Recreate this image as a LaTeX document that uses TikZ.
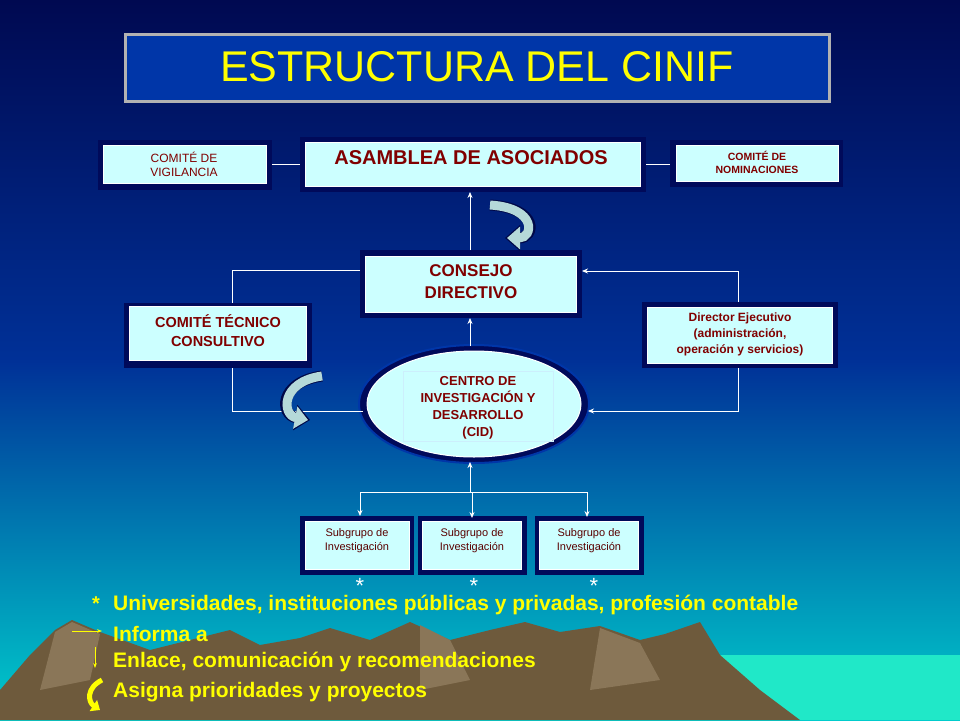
\documentclass[tikz,border=0pt]{standalone}
\usepackage{fontspec}
\setmainfont{Liberation Sans}
\usetikzlibrary{arrows.meta,shapes.geometric}
\definecolor{navy}{HTML}{000A5A}
\definecolor{boxfill}{HTML}{CCFFFF}
\definecolor{dred}{HTML}{800000}
\definecolor{ttl}{HTML}{0036A8}
\definecolor{yel}{HTML}{FFFF00}
\definecolor{mtn}{HTML}{6E5A3C}
\definecolor{mtnl}{HTML}{8A7658}
\definecolor{sea}{HTML}{20E8C8}
\tikzset{
  outerbox/.style={fill=navy},
  innerbox/.style={fill=boxfill,draw=white,line width=1pt},
  lbl/.style={text=dred,font=\bfseries,align=center},
  conn/.style={draw=white,line width=0.8pt},
  arr/.style={conn,-{Stealth[length=6pt,width=5pt]}},
  curv/.style={line width=9pt,draw=boxfill!70!gray,-{Triangle[length=13pt,width=22pt]}},
  curvo/.style={line width=11pt,draw=navy!80!black,-{Triangle[length=15pt,width=25pt]}},
  legend/.style={text=yel,font=\bfseries\fontsize{21}{22}\selectfont,anchor=west,inner sep=0},
  star/.style={text=white,font=\fontsize{22}{22}\selectfont,inner sep=0,anchor=base}
}
\begin{document}
\begin{tikzpicture}[x=1pt,y=-1pt]
\useasboundingbox (0,0) rectangle (960,720);
% background
\shade[top color=navy!90!black, bottom color=ttl!90!black] (0,0) rectangle (960,360);
\shade[top color=ttl!90!black, bottom color=cyan!60!teal] (0,360) rectangle (960,720);
\fill[sea] (640,655) rectangle (960,720);
\fill[mtn] (0,690) -- (30,655) -- (55,630) -- (72,620) -- (100,632) -- (150,650) -- (190,640) -- (230,630) -- (260,645) -- (300,638) -- (330,628) -- (370,640) -- (410,622) -- (450,640) -- (490,630) -- (525,622) -- (560,632) -- (600,626) -- (640,640) -- (665,634) -- (700,622) -- (720,655) -- (760,690) -- (800,720) -- (0,720) -- cycle;
\fill[mtnl] (420,625) -- (450,640) -- (470,680) -- (420,690) -- cycle;
\fill[mtnl] (600,628) -- (640,643) -- (660,680) -- (590,690) -- cycle;
\fill[mtnl] (55,632) -- (72,622) -- (100,634) -- (90,680) -- (40,690) -- cycle;
% title
\node[draw=gray!60,line width=3pt,fill=ttl,minimum width=704pt,minimum height=67pt] (title) at (477,68) {};
\node[text=yel,font=\fontsize{43}{46}\selectfont] (titletext) at (477,67) {ESTRUCTURA DEL CINIF};
% boxes
\fill[outerbox] (300,137) rectangle (646,192);
\node[innerbox,minimum width=335pt,minimum height=44pt] (asam) at (473,164) {};
\node[lbl,font=\bfseries\fontsize{20}{22}\selectfont] (asamt) at (471,158) {ASAMBLEA DE ASOCIADOS};
\fill[outerbox] (98,140) rectangle (272,190);
\node[innerbox,minimum width=163pt,minimum height=38pt] (vig) at (185,164) {};
\node[lbl,font=\fontsize{12}{14}\selectfont] at (184,164) {COMITÉ DE\\VIGILANCIA};
\fill[outerbox] (670,140) rectangle (843,187);
\node[innerbox,minimum width=162pt,minimum height=36pt] (nom) at (757,163) {};
\node[lbl,font=\bfseries\fontsize{10.5}{13}\selectfont] at (757,162) {COMITÉ DE\\NOMINACIONES};
\fill[outerbox] (360,250) rectangle (582,318);
\node[innerbox,minimum width=211pt,minimum height=56pt] (cons) at (471,284) {};
\node[lbl,font=\bfseries\fontsize{17}{22}\selectfont] at (471,282) {CONSEJO\\DIRECTIVO};
\fill[outerbox] (124,303) rectangle (312,368);
\node[innerbox,minimum width=177pt,minimum height=54pt] (tec) at (218,333) {};
\node[lbl,font=\bfseries\fontsize{14.5}{19}\selectfont] at (218,331) {COMITÉ TÉCNICO\\CONSULTIVO};
\fill[outerbox] (642,302) rectangle (838,368);
\node[innerbox,minimum width=185pt,minimum height=56pt] (dir) at (740,335) {};
\node[lbl,font=\bfseries\fontsize{12}{16}\selectfont] at (740,334) {Director Ejecutivo\\(administración,\\operación y servicios)};
\node[ellipse,fill=navy,draw=ttl,line width=2pt,minimum width=230pt,minimum height=118pt] (cid) at (474,404) {};
\node[ellipse,fill=boxfill,draw=white,line width=1pt,minimum width=214pt,minimum height=106pt] (cidi) at (474,404) {};
\node[draw=white!80!cyan,line width=0.3pt,minimum width=150pt,minimum height=70pt] (cidb) at (478,406) {};
\node[lbl,font=\bfseries\fontsize{13}{17}\selectfont] (cidt) at (478,408) {CENTRO DE\\INVESTIGACIÓN Y\\DESARROLLO\\(CID)};
% subgroups
\foreach \n/\x/\w in {s1/357/114,s2/472/109,s3/589/109}{
  \fill[outerbox] (\x-\w/2,516) rectangle (\x+\w/2,575);
  \node[innerbox,minimum width=\w pt-10pt,minimum height=48pt] (\n) at (\x,545) {};
  \node[text=dred!70!black,align=center,font=\fontsize{11}{14}\selectfont] at (\x,541) {Subgrupo de\\Investigación};
}
\node[star] (st1) at (360,593) {*};
\node[star] (st2) at (474,593) {*};
\node[star] (st3) at (594,593) {*};
% connectors
\draw[conn] (272,164) -- (300,164);
\draw[conn] (646,164) -- (670,164);
\draw[arr] (470,250) -- (470,192);
\draw[arr] (470,346) -- (470,318);
\draw[conn] (360,270) -- (232,270) -- (232,303);
\draw[conn] (232,368) -- (232,411) -- (363,411);
\draw[arr] (738,302) -- (738,271) -- (582,271);
\draw[arr] (738,368) -- (738,411) -- (588,411);
\draw[arr] (470,492) -- (470,462);
\draw[conn] (360,492) -- (587,492);
\draw[arr] (360,492) -- (360,516);
\draw[arr] (472,492) -- (472,518);
\draw[arr] (587,492) -- (587,517);
% curved arrows
\draw[curvo] (490,205) .. controls (540,208) and (535,238) .. (505,238);
\draw[curv] (490,205) .. controls (538,208) and (533,238) .. (507,238);
\draw[curvo] (322,376) .. controls (278,382) and (280,415) .. (310,420);
\draw[curv] (322,376) .. controls (280,382) and (282,415) .. (308,420);
% legend
\node[text=yel,font=\bfseries\fontsize{20}{20}\selectfont,inner sep=0] (lst) at (96,604) {*};
\node[legend] (l1) at (113,605) {Universidades, instituciones públicas y privadas, profesión contable};
\node[legend] (l2) at (113,634) {Informa a};
\node[legend] (l3) at (113,662) {Enlace, comunicación y recomendaciones};
\node[legend] (l4) at (113,692) {Asigna prioridades y proyectos};
\coordinate (a1) at (72,631); \coordinate (a2) at (102,631);
\draw[yel,line width=0.8pt,-{Stealth[length=5pt]}] (a1) -- (a2);
\coordinate (b1) at (95,647); \coordinate (b2) at (95,668);
\draw[yel,line width=0.8pt,-{Stealth[length=5pt]}] (b1) -- (b2);
\draw[yel,line width=5pt,-{Triangle[length=8pt,width=13pt]}] (102,680) .. controls (86,688) and (88,702) .. (100,710);
\end{tikzpicture}
\end{document}
